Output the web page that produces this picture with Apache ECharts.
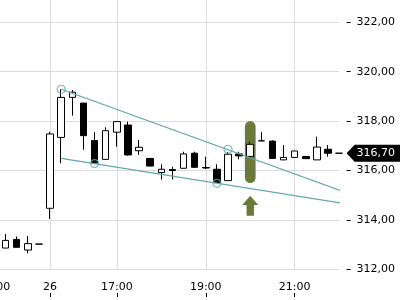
<!DOCTYPE html>
<html><head><meta charset="utf-8">
<script src="https://cdn.jsdelivr.net/npm/echarts@6/dist/echarts.min.js"></script>
<style>html,body{margin:0;padding:0;background:#fff}#c{width:400px;height:300px}</style>
</head><body><div id="c"></div>
<script>
const categories = ['25 21:00','25 21:15','25 21:30','25 21:45','25 22:00',
  '26 15:30','26 15:45','26 16:00','26 16:15','26 16:30','26 16:45','26 17:00','26 17:15','26 17:30','26 17:45',
  '26 18:00','26 18:15','26 18:30','26 18:45','26 19:00','26 19:15','26 19:30','26 19:45','26 20:00','26 20:15',
  '26 20:30','26 20:45','26 21:00','26 21:15','26 21:30','26 21:45','26 22:00'];
const opens  = [null,312.86,313.21,312.78,313.02, 314.47,317.34,318.96,318.73,317.21,316.45,317.55,317.84,316.80,316.49,
  315.92,316.04,316.09,316.70,316.12,316.05,315.59,316.67,316.57,317.20, 317.19,316.43,316.53,316.57,316.43,316.86,316.70];
const closes = [null,313.17,312.89,313.04,313.02, 317.48,318.96,319.17,317.41,316.30,317.61,317.98,316.63,316.94,316.18,
  316.05,316.00,316.67,316.13,316.10,315.51,316.66,316.59,317.06,317.20, 316.49,316.53,316.79,316.48,316.95,316.70,316.70];
const lows   = [null,312.86,312.89,312.65,313.02, 314.04,316.29,318.22,316.84,316.30,316.45,316.96,316.60,316.63,316.18,
  315.63,315.64,316.09,316.13,316.06,315.51,315.59,316.45,316.52,317.20, 316.49,316.43,316.53,316.48,316.43,316.56,316.70];
const highs  = [null,313.43,313.33,313.35,313.02, 317.57,319.29,319.26,318.73,317.55,317.75,317.98,317.98,317.23,316.49,
  316.25,316.15,316.76,316.76,316.56,316.25,316.75,316.76,317.17,317.55, 317.22,317.03,316.79,316.57,317.37,317.03,316.70];
const tickCategories = ['25 21:00','26 15:30','26 17:00','26 19:00','26 21:00'];
const tickLabels = ['21:00','26','17:00','19:00','21:00'];
const upperTrend = [[6,319.29],[31.5,315.13]];
const lowerTrend = [[6,316.49],[31.5,314.66]];
const trendAnchors = [[6,319.29],[9,316.28],[20,315.48],[21,316.86]];
const signalCategory = '26 20:00';
const signalBand = [315.49, 318.0];
const signalArrow = [314.17, 314.98];

const labelMap = {};
tickCategories.forEach((c,i)=>labelMap[c]=tickLabels[i]);
const isTick = (idx, val) => labelMap[val] !== undefined;
const fmt = v => v.toFixed(2).replace('.', ',');
const candleData = categories.map((c,i)=> opens[i]==null ? '-' : [opens[i],closes[i],lows[i],highs[i]]);
const lastIdx = categories.length - 1;
const lastPrice = closes[lastIdx];
const sigIdx = categories.indexOf(signalCategory);
const FONT = 'DejaVu Sans';
const OLIVE = '#6b7a3a';
const TEAL = '#62a8ad';

const chart = echarts.init(document.getElementById('c'), null, {renderer:'canvas'});
chart.setOption({
  animation:false,
  grid:{left:-5.5, right:60.8, top:-27.1, bottom:30.7, containLabel:false, outerBoundsMode:'none'},
  xAxis:[{type:'category', data:categories, boundaryGap:false, position:'bottom', offset:27.7,
    axisLine:{show:false, onZero:false},
    axisTick:{show:true, inside:true, length:4, interval:isTick, lineStyle:{color:'#000'}},
    axisLabel:{inside:true, margin:4, interval:isTick, formatter:v=>labelMap[v]||'', color:'#000', fontSize:11, fontFamily:FONT},
    splitLine:{show:true, interval:isTick, lineStyle:{color:'#dcdcdc'}}},
    {type:'value', min:0, max:lastIdx, show:false, position:'top', axisLine:{onZero:false}}],
  yAxis:{type:'value', position:'right', min:312, max:324, interval:2, offset:7.4,
    axisLine:{show:false, onZero:false},
    axisTick:{show:true, length:4, lineStyle:{color:'#000'}},
    axisLabel:{margin:10, color:'#000', fontSize:11, fontFamily:FONT, formatter:fmt},
    splitLine:{show:true, lineStyle:{color:'#dcdcdc'}}},
  series:[
    {type:'custom', z:1, clip:false, data:[[sigIdx, signalBand[0], signalBand[1]]],
     renderItem:(params, api)=>{
       const x = api.value(0);
       const top = api.coord([x, api.value(2)]);
       const bot = api.coord([x, api.value(1)]);
       const w = 10.7;
       return {type:'rect', shape:{x:top[0]-w/2, y:top[1], width:w, height:bot[1]-top[1], r:5.3}, style:{fill:OLIVE}};
     }},
    {type:'custom', z:1, clip:false, data:[[sigIdx, signalArrow[0], signalArrow[1]]],
     renderItem:(params, api)=>{
       const x = api.value(0);
       const tip = api.coord([x, api.value(2)]);
       const base = api.coord([x, api.value(1)]);
       const hw = 8, sw = 3.7, hh = 9.3;
       const tx = tip[0], ty = tip[1], by = base[1];
       return {type:'polygon', shape:{points:[[tx,ty],[tx+hw,ty+hh],[tx+sw,ty+hh],[tx+sw,by],[tx-sw,by],[tx-sw,ty+hh],[tx-hw,ty+hh]]}, style:{fill:OLIVE}};
     }},
    {type:'candlestick', z:3, clip:false, data:candleData, barWidth:7,
     itemStyle:{color:'#fff', color0:'#000', borderColor:'#000', borderColor0:'#000', borderColorDoji:'#000', borderWidth:1}},
    {type:'line', z:4, xAxisIndex:1, data:upperTrend, symbol:'none', clip:false, lineStyle:{color:TEAL, width:1.2}},
    {type:'line', z:4, xAxisIndex:1, data:lowerTrend, symbol:'none', clip:false, lineStyle:{color:TEAL, width:1.2}},
    {type:'scatter', z:5, xAxisIndex:1, data:trendAnchors, symbol:'circle', symbolSize:8, clip:false,
     itemStyle:{color:'rgba(0,0,0,0)', borderColor:TEAL, borderWidth:1.2}},
    {type:'custom', z:6, clip:false, data:[[lastIdx, lastPrice]],
     renderItem:(params, api)=>{
       const p = api.coord([api.value(0), api.value(1)]);
       const cs = params.coordSys;
       const tipX = cs.x + cs.width + 7.4;
       const y = p[1];
       const h = 17, tw = 8, right = 400;
       return {type:'group', children:[
         {type:'polygon', shape:{points:[[tipX,y],[tipX+tw,y-h/2],[right,y-h/2],[right,y+h/2],[tipX+tw,y+h/2]]}, style:{fill:'#000'}},
         {type:'text', style:{x:tipX+10, y:y, text:fmt(api.value(1)), fill:'#fff', font:'11px "DejaVu Sans"', textVerticalAlign:'middle', verticalAlign:'middle', textAlign:'left', align:'left'}}
       ]};
     }}
  ]
});
</script></body></html>
